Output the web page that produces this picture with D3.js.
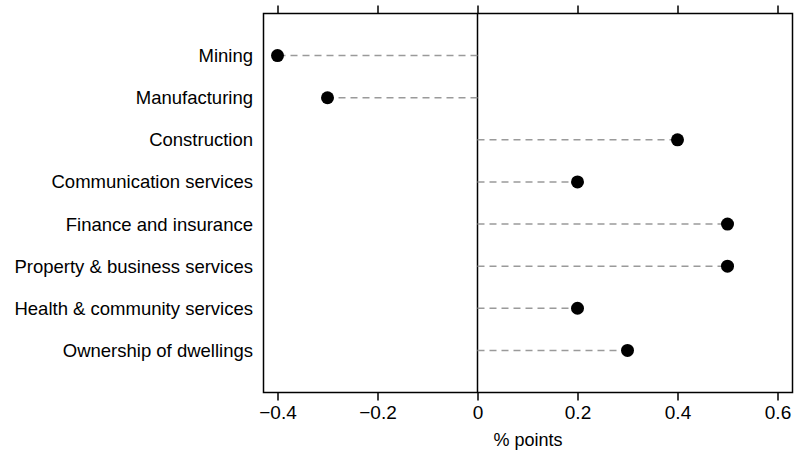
<!DOCTYPE html>
<html><head><meta charset="utf-8">
<script src="https://cdn.jsdelivr.net/npm/d3@7"></script>
<style>body{margin:0;background:#fff}svg{display:block}text{font-family:"Liberation Sans",Arial,sans-serif;fill:#000}</style>
</head><body><svg id="c" width="795" height="452"></svg>
<script>
const industries = ["Mining","Manufacturing","Construction","Communication services","Finance and insurance","Property & business services","Health & community services","Ownership of dwellings"];
const values = [-0.4,-0.3,0.4,0.2,0.5,0.5,0.2,0.3];
const xTicks = [-0.4,-0.2,0,0.2,0.4,0.6];
const xTickLabels = ["\u22120.4","\u22120.2","0","0.2","0.4","0.6"];
const xTitle = "% points";

(function(){
const svg = d3.select("#c");
const L=263.5, R=792.5, T=13.5, B=392.5;
const x = d3.scaleLinear().domain([-0.428,0.63]).range([L,R]);
const y = d3.scalePoint().domain(industries).range([T,B]).padding(1);

svg.append("rect").attr("x",L).attr("y",T).attr("width",R-L).attr("height",B-T).attr("fill","none").attr("stroke","#000").attr("stroke-width",1.5);

const gB = svg.append("g").attr("transform",`translate(0,${B})`)
  .call(d3.axisBottom(x).tickValues(xTicks).tickFormat((d,i)=>xTickLabels[i]).tickSize(8).tickPadding(5));
gB.select(".domain").remove();
gB.selectAll("line").attr("stroke-width",1.5);
gB.selectAll("text").attr("font-size",19).attr("font-family","Liberation Sans, Arial, sans-serif");
const gT = svg.append("g").attr("transform",`translate(0,${T})`)
  .call(d3.axisTop(x).tickValues(xTicks).tickFormat("").tickSize(8));
gT.select(".domain").remove();
gT.selectAll("line").attr("stroke-width",1.5);

svg.append("line").attr("x1",x(0)).attr("x2",x(0)).attr("y1",T).attr("y2",B).attr("stroke","#000").attr("stroke-width",1.5);

svg.append("g").selectAll("line").data(industries).join("line")
  .attr("x1",x(0)).attr("x2",(d,i)=>x(values[i])).attr("y1",d=>y(d)).attr("y2",d=>y(d))
  .attr("stroke","#9a9a9a").attr("stroke-width",1.5).attr("stroke-dasharray","7,5");
svg.append("g").selectAll("circle").data(industries).join("circle")
  .attr("cx",(d,i)=>x(values[i])).attr("cy",d=>y(d)).attr("r",6.5).attr("fill","#000");

svg.append("g").selectAll("text").data(industries).join("text")
  .attr("x",253).attr("y",d=>y(d)).attr("dy","0.35em").attr("text-anchor","end").attr("font-size",18.5).text(d=>d);

svg.append("text").attr("x",(L+R)/2).attr("y",446).attr("text-anchor","middle").attr("font-size",18).text(xTitle);
})();
</script></body></html>
